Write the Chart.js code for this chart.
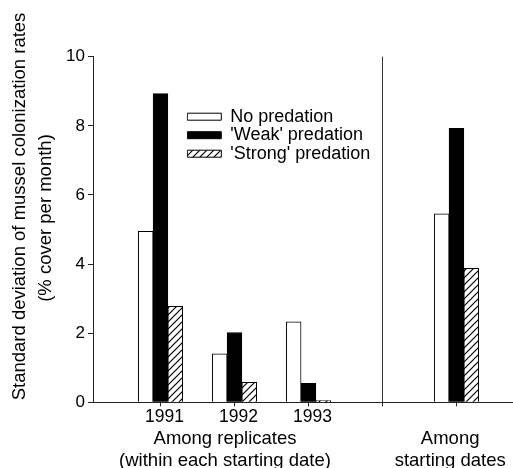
<!DOCTYPE html>
<html><head><meta charset="utf-8">
<script src="https://cdn.jsdelivr.net/npm/chart.js@4"></script>
<style>html,body{margin:0;padding:0;background:#fff}#wrap{width:513px;height:468px;position:relative}</style>
</head><body><div id="wrap"><canvas id="c"></canvas></div>
<script>
// ---- data ----
const yearLabels = ['1991', '1992', '1993'];
const yearLabelAt = [0.055, 1.055, 2.055];
const groupIndex = [0, 1, 2, 4];            // category index of each bar group (3 = divider)
const noPredation = [4.95, 1.40, 2.33, 5.45];
const weakPredation = [8.93, 2.02, 0.55, 7.93];
const strongPredation = [2.78, 0.58, 0.05, 3.88];
const seriesNames = ['No predation', "'Weak' predation", "'Strong' predation"];
const dividerIndex = 3;
const groupLabelText = [['', 'Among replicates', '(within each starting date)'], ['', 'Among', 'starting dates']];
const groupLabelAt = [0.872, 3.915];
const yTicks = [0, 2, 4, 6, 8, 10];
const yTitle = ['Standard deviation of mussel colonization rates', '(% cover per month)'];

const FONT = "'Liberation Sans', Arial, Helvetica, sans-serif";
Chart.defaults.font.family = FONT;
Chart.defaults.color = '#000';

function hatch() {
  const n = 7;
  const c = document.createElement('canvas'); c.width = n; c.height = n;
  const g = c.getContext('2d');
  g.fillStyle = '#fff'; g.fillRect(0, 0, n, n);
  g.strokeStyle = '#000'; g.lineWidth = 1.2;
  g.beginPath();
  g.moveTo(-1, n + 1); g.lineTo(n + 1, -1);
  g.moveTo(-1, 1); g.lineTo(1, -1);
  g.moveTo(n - 1, n + 1); g.lineTo(n + 1, n - 1);
  g.stroke();
  return g.createPattern(c, 'repeat');
}

const toPts = arr => arr.map((v, i) => ({x: groupIndex[i], y: v}));
const near = (a, b) => Math.abs(a - b) < 1e-6;
const tickedIdx = [0, 1, 2, 3, 4];

const allTicks = [...tickedIdx, ...yearLabelAt, ...groupLabelAt].sort((a, b) => a - b);

function labelFor(v) {
  for (let i = 0; i < yearLabelAt.length; i++) if (near(v, yearLabelAt[i])) return yearLabels[i];
  for (let i = 0; i < groupLabelAt.length; i++) if (near(v, groupLabelAt[i])) return groupLabelText[i];
  return '';
}
function isGroup(v) { return groupLabelAt.some(p => near(p, v)); }

const yTitlePlugin = {
  id: 'ytitle',
  afterDraw(chart) {
    const ctx = chart.ctx;
    ctx.save();
    ctx.fillStyle = '#000';
    ctx.font = "18.5px " + FONT;
    ctx.textAlign = 'center';
    ctx.textBaseline = 'middle';
    const pos = [[20, 206.5], [46, 218]];
    yTitle.forEach((t, i) => {
      ctx.save();
      ctx.translate(pos[i][0], pos[i][1]);
      ctx.rotate(-Math.PI / 2);
      ctx.fillText(t, 0, 0);
      ctx.restore();
    });
    ctx.restore();
  }
};

const legendPlace = {
  id: 'legendPlace',
  afterLayout(chart) {
    const lg = chart.legend;
    if (!lg) return;
    lg.left = 187.3 - 0.5; lg.top = 107.2;
    lg.width = 260; lg.height = 100;
    lg.right = lg.left + lg.width; lg.bottom = lg.top + lg.height;
  }
};

new Chart(document.getElementById('c'), {
  type: 'bar',
  data: {
    datasets: [
      {label: seriesNames[0], data: toPts(noPredation), backgroundColor: '#fff', borderColor: '#000', borderWidth: 1},
      {label: seriesNames[1], data: toPts(weakPredation), backgroundColor: '#000', borderColor: '#000', borderWidth: 1},
      {label: seriesNames[2], data: toPts(strongPredation), backgroundColor: hatch(), borderColor: '#000', borderWidth: 1}
    ]
  },
  options: {
    responsive: true, maintainAspectRatio: false, animation: false,
    layout: {padding: {top: 56.7, left: 0, right: 0, bottom: 0}},
    datasets: {bar: {barThickness: 14.8, grouped: true}},
    plugins: {
      tooltip: {enabled: false},
      legend: {
        position: 'chartArea', align: 'start',
        labels: {boxWidth: 34, boxHeight: 7, padding: 0.5, color: '#000', font: {size: 18}}
      }
    },
    scales: {
      x: {
        type: 'linear', min: -0.912, max: 4.764, offset: false,
        afterBuildTicks: s => { s.ticks = allTicks.map(v => ({value: v})); },
        afterFit: s => { s.height = 65.7; },
        ticks: {
          autoSkip: false, maxRotation: 0, minRotation: 0, padding: 0, color: '#000',
          font: ctx => ({size: (ctx.tick && isGroup(ctx.tick.value)) ? 18.5 : 17.5, lineHeight: 1.19}),
          callback: v => labelFor(v)
        },
        grid: {
          offset: false, drawOnChartArea: true, tickLength: 4, lineWidth: 1,
          color: ctx => (ctx.tick && near(ctx.tick.value, dividerIndex)) ? '#333' : 'rgba(0,0,0,0)',
          tickColor: ctx => (ctx.tick && tickedIdx.some(p => near(p, ctx.tick.value))) ? '#222' : 'rgba(0,0,0,0)'
        },
        border: {color: '#222', width: 1}
      },
      y: {
        min: 0, max: 10,
        afterFit: s => { s.width = 93; },
        afterBuildTicks: s => { s.ticks = yTicks.map(v => ({value: v})); },
        ticks: {padding: 3, color: '#000', font: {size: 17}},
        grid: {drawOnChartArea: false, tickLength: 5, color: '#222'},
        border: {color: '#222', width: 1}
      }
    }
  },
  plugins: [yTitlePlugin, legendPlace]
});
</script>
</body></html>
